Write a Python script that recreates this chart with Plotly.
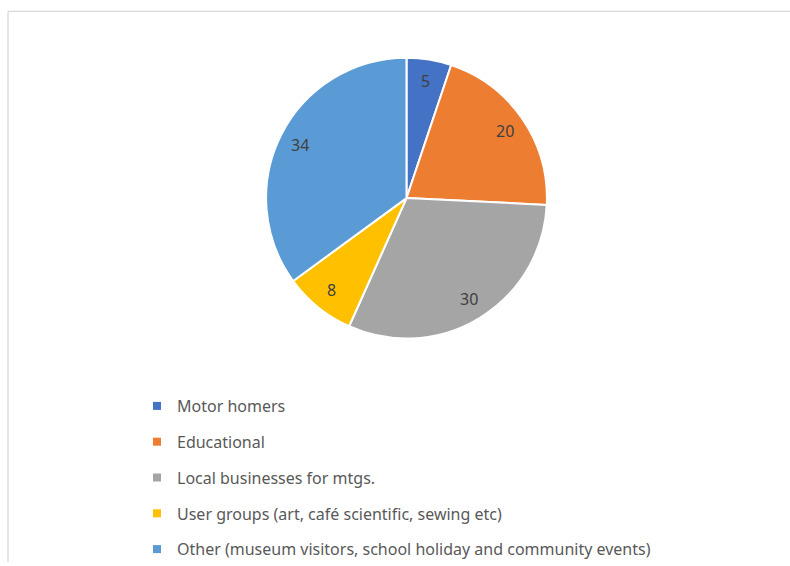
import math
import plotly.graph_objects as go

W, H = 790, 566

categories = [
    "Motor homers",
    "Educational",
    "Local businesses for mtgs.",
    "User groups (art, café scientific, sewing etc)",
    "Other (museum visitors, school holiday and community events)",
]
values = [5, 20, 30, 8, 34]
colors = ["#4472C4", "#ED7D31", "#A5A5A5", "#FFC000", "#5B9BD5"]

FONT = "Noto Sans"
TEXT_COLOR = "#595959"
LABEL_COLOR = "#404040"

fig = go.Figure()

# Pie centred at (406.5, 199.5) px with a 140 px radius
cx, cy, r = 406.5, 199.5, 140.0
half = r * 1.01
fig.add_trace(go.Pie(
    labels=categories,
    values=values,
    sort=False,
    direction="clockwise",
    rotation=0,
    marker=dict(colors=colors, line=dict(color="white", width=2)),
    textinfo="none",
    showlegend=False,
    hoverinfo="label+value",
    domain=dict(x=[(cx - half) / W, (cx + half) / W],
                y=[1 - (cy + half) / H, 1 - (cy - half) / H]),
))

# Value labels placed along each slice's mid-angle, near the rim
total = sum(values)
label_r = 0.85 * r
cum = 0.0
for v in values:
    theta = 2 * math.pi * (cum + v / 2) / total
    lx = cx + label_r * math.sin(theta)
    ly = cy - label_r * math.cos(theta)
    fig.add_annotation(
        x=lx / W, y=1 - ly / H, xref="paper", yref="paper",
        text=str(v), showarrow=False, xanchor="center", yanchor="middle",
        font=dict(family=FONT, size=16, color=LABEL_COLOR),
    )
    cum += v

# Legend entries: one square-marker trace per category
for name, col in zip(categories, colors):
    fig.add_trace(go.Scatter(
        x=[None], y=[None], mode="markers", name=name,
        marker=dict(symbol="square", size=8, color=col),
        legendgroup=name, showlegend=True, hoverinfo="skip",
    ))

# Chart frame: top and left edges
top_y = 1 - 11.5 / H
left_x = 8 / W
fig.add_shape(type="line", xref="paper", yref="paper",
              x0=left_x, x1=1.0, y0=top_y, y1=top_y,
              line=dict(color="#D9D9D9", width=1.3))
fig.add_shape(type="line", xref="paper", yref="paper",
              x0=left_x, x1=left_x, y0=0, y1=top_y,
              line=dict(color="#D9D9D9", width=1.3))

fig.update_layout(
    width=W, height=H,
    margin=dict(l=0, r=0, t=0, b=0),
    paper_bgcolor="white",
    plot_bgcolor="white",
    xaxis=dict(visible=False),
    yaxis=dict(visible=False),
    font=dict(family=FONT, color=TEXT_COLOR),
    legend=dict(
        x=137 / W, y=1 - 392 / H, xanchor="left", yanchor="top",
        font=dict(family=FONT, size=16, color=TEXT_COLOR),
        tracegroupgap=12,
        itemwidth=30,
        bgcolor="rgba(0,0,0,0)",
    ),
)

fig.write_html("out.html")
